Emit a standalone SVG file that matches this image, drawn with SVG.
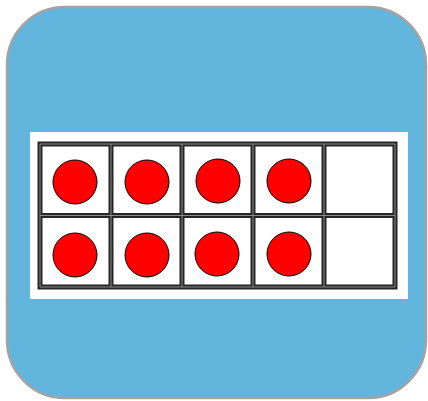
<svg xmlns="http://www.w3.org/2000/svg" width="428" height="401" viewBox="0 0 428 401">
  <style>
    .grid { fill: none; stroke: #262626; stroke-width: 5; }
    .gridc { fill: none; stroke: #8a8a8a; stroke-width: 1; }
    .dot { fill: #ff0000; stroke: #000; stroke-width: 1; }
  </style>
  <rect id="background" x="7" y="7" width="419" height="391" rx="58" ry="58" fill="#62b5dd" stroke="#a3a3a3" stroke-width="2.5"/>
  <rect id="panel" x="30" y="132" width="378" height="167" fill="#ffffff"/>
  <g id="frame">
    <rect x="40" y="144" width="355" height="143" fill="#ffffff"/>
    <path class="grid" d="M40,144H395V287H40Z M111,144V287 M182,144V287 M253,144V287 M324,144V287 M40,215.5H395"/>
    <path class="gridc" d="M40,144H395V287H40Z M111,144V287 M182,144V287 M253,144V287 M324,144V287 M40,215.5H395"/>
  </g>
  <g id="counters">
    <circle class="dot" cx="75" cy="182" r="22"/>
    <circle class="dot" cx="147" cy="182" r="22"/>
    <circle class="dot" cx="218" cy="181" r="22"/>
    <circle class="dot" cx="289" cy="181" r="22"/>
    <circle class="dot" cx="75" cy="255" r="22"/>
    <circle class="dot" cx="147" cy="255" r="22"/>
    <circle class="dot" cx="217" cy="254" r="22"/>
    <circle class="dot" cx="289" cy="254" r="22"/>
  </g>
</svg>
